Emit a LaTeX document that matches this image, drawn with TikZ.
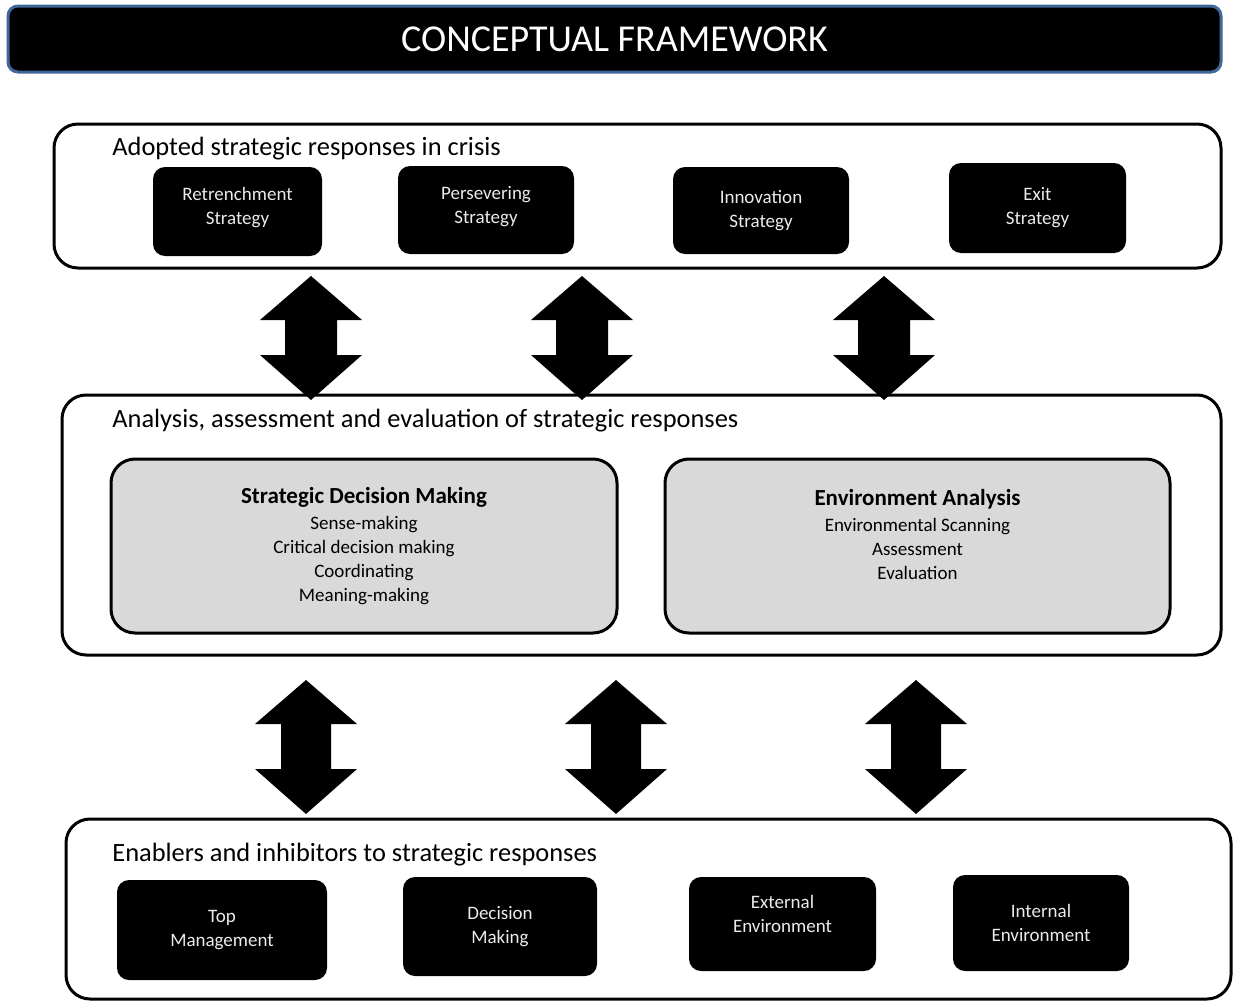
\documentclass[tikz,border=0pt]{standalone}
\usepackage{fontspec}
\setmainfont{Carlito}
\usetikzlibrary{calc}
\definecolor{titleblue}{HTML}{41679A}
\definecolor{boxgrey}{HTML}{D9D9D9}
\tikzset{
	section/.style={draw, line width=1.5pt, rounded corners=12pt, inner sep=0pt},
	blackbox/.style={fill=black, rounded corners=6pt, text=white!92!black, align=center, inner sep=0pt, font=\fontsize{9.5}{12}\selectfont},
	greybox/.style={draw, fill=boxgrey, line width=1.5pt, rounded corners=12pt, align=center, inner sep=0pt, font=\fontsize{9.5}{12}\selectfont},
	heading/.style={anchor=west, inner sep=0pt, font=\fontsize{13.2}{15}\selectfont},
}
% block double arrow: x centre, top tip, bottom tip, shaft half width
\newcommand{\bigarrow}[4]{\fill (#1,#2) -- (#1+51,#2+44) -- (#1+#4,#2+44) -- (#1+#4,#3-45) -- (#1+51,#3-45) -- (#1,#3) -- (#1-51,#3-45) -- (#1-#4,#3-45) -- (#1-#4,#2+44) -- (#1-51,#2+44) -- cycle;}

\begin{document}
\begin{tikzpicture}[x=0.5pt, y=-0.5pt]
			%%%%% START %%%%%
			\useasboundingbox (0,0) rectangle (1233,1001);
			
			\node[fill=black, draw=titleblue, line width=1.5pt, rounded corners=5pt, minimum width=606.5pt, minimum height=33pt, text=white, font=\fontsize{19}{22}\selectfont] (title) at (614.5,39) {CONCEPTUAL FRAMEWORK};
			
			% adopted responses
			\node[section, minimum width=583.5pt, minimum height=72pt] (crisis) at (637.5,196) {};
			\node[heading] (crisishead) at (112,149) {Adopted strategic responses in crisis};
			\node[blackbox, minimum width=84.5pt, minimum height=44.5pt, text depth=6pt] (retrench) at (237.5,211.5) {Retrenchment\\Strategy};
			\node[blackbox, minimum width=88pt, minimum height=44pt, text depth=5pt] (persevere) at (486,210) {Persevering\\Strategy};
			\node[blackbox, minimum width=88pt, minimum height=43.5pt] (innovate) at (761,210.5) {Innovation\\Strategy};
			\node[blackbox, minimum width=88.5pt, minimum height=45pt] (exit) at (1037.5,208) {Exit\\Strategy};
			
			\bigarrow{311}{276}{400}{26}
			\bigarrow{582}{276}{400}{26}
			\bigarrow{884}{276}{400}{26}
			
			% analysis
			\node[section, minimum width=579.5pt, minimum height=130pt] (analysis) at (641.5,525) {};
			\node[heading] (analysishead) at (112,421) {Analysis, assessment and evaluation of strategic responses};
			\node[greybox, minimum width=253pt, minimum height=87pt] (sdm) at (364,546) {{\bfseries\fontsize{11.5}{12}\selectfont Strategic Decision Making}\\[1pt]Sense-making\\Critical decision making\\Coordinating\\Meaning-making};
			\node[greybox, minimum width=252.5pt, minimum height=87pt] (env) at (917.5,546) {{\bfseries\fontsize{11.5}{12}\selectfont Environment Analysis}\\[1pt]Environmental Scanning\\Assessment\\Evaluation\\\mbox{}};
			
			\bigarrow{306}{680}{814}{25}
			\bigarrow{616}{680}{814}{25}
			\bigarrow{916}{680}{814}{25}
			
			% enablers
			\node[section, minimum width=582.5pt, minimum height=90pt] (enablers) at (648.5,909) {};
			\node[heading] (enablershead) at (112,855) {Enablers and inhibitors to strategic responses};
			\node[blackbox, minimum width=105pt, minimum height=50pt] (topman) at (222,930) {Top\\Management};
			\node[blackbox, minimum width=97pt, minimum height=49.5pt] (decide) at (500,926.5) {Decision\\Making};
			\node[blackbox, minimum width=93.5pt, minimum height=47pt, text depth=10pt] (external) at (782.5,924) {External\\Environment};
			\node[blackbox, minimum width=88pt, minimum height=48pt] (internal) at (1041,923) {Internal\\Environment};
			
			%%%%% END %%%%%
\end{tikzpicture}
\end{document}
